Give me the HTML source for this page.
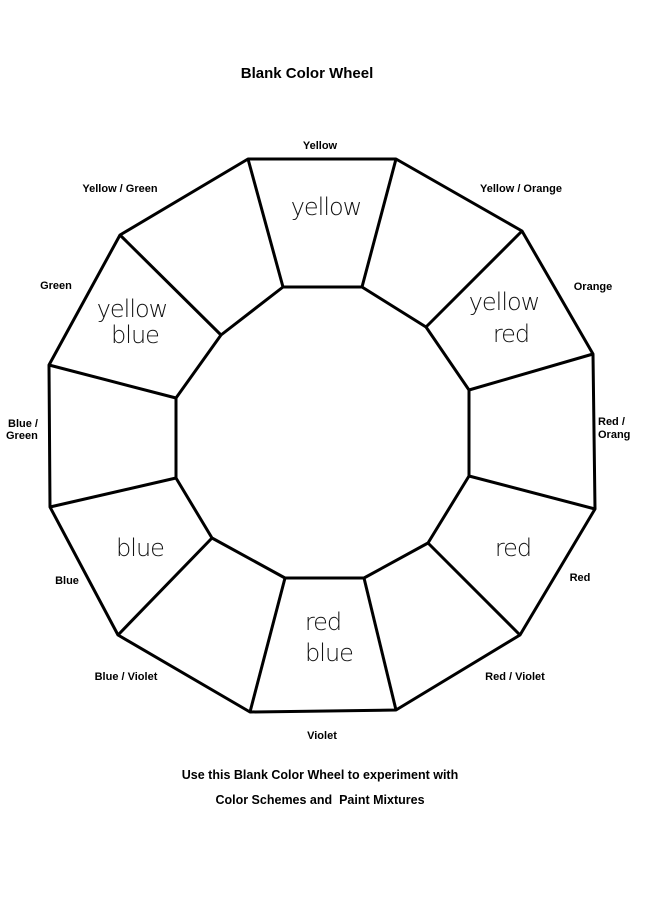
<!DOCTYPE html>
<html><head><style>
body{margin:0;background:#fff;}
svg{display:block;}
.l{font-family:"Liberation Sans",sans-serif;font-size:11px;font-weight:bold;fill:#000;}
.h{font-family:"DejaVu Sans","Liberation Sans",sans-serif;font-size:24px;font-weight:200;fill:#111;letter-spacing:-1px;}
</style></head><body>
<svg width="668" height="918" viewBox="0 0 668 918">
<rect width="668" height="918" fill="#fff"/>
<g fill="none" stroke="#000" stroke-width="3" stroke-linejoin="round">
<polygon points="248,159 396,159 522,231 593,354 595,509 520,635 396,710 250,712 118,635 50,507 49,365 120,235"/>
<polygon points="283,287 362,287 426,327 469,390 469,476 428,543 364,578 285,578 212,538 176,478 176,398 221,335"/>
<line x1="248" y1="159" x2="283" y2="287"/><line x1="396" y1="159" x2="362" y2="287"/>
<line x1="522" y1="231" x2="426" y2="327"/><line x1="593" y1="354" x2="469" y2="390"/>
<line x1="595" y1="509" x2="469" y2="476"/><line x1="520" y1="635" x2="428" y2="543"/>
<line x1="396" y1="710" x2="364" y2="578"/><line x1="250" y1="712" x2="285" y2="578"/>
<line x1="118" y1="635" x2="212" y2="538"/><line x1="50" y1="507" x2="176" y2="478"/>
<line x1="49" y1="365" x2="176" y2="398"/><line x1="120" y1="235" x2="221" y2="335"/>
</g>
<text x="307" y="78" text-anchor="middle" font-family="Liberation Sans,sans-serif" font-size="15" font-weight="bold">Blank Color Wheel</text>
<text class="l" x="320" y="149" text-anchor="middle">Yellow</text>
<text class="l" x="120" y="192" text-anchor="middle">Yellow / Green</text>
<text class="l" x="521" y="192" text-anchor="middle">Yellow / Orange</text>
<text class="l" x="56" y="289" text-anchor="middle">Green</text>
<text class="l" x="593" y="290" text-anchor="middle">Orange</text>
<text class="l" x="8" y="427">Blue /</text><text class="l" x="6" y="439">Green</text>
<text class="l" x="598" y="425">Red /</text><text class="l" x="598" y="438">Orang</text>
<text class="l" x="67" y="584" text-anchor="middle">Blue</text>
<text class="l" x="580" y="581" text-anchor="middle">Red</text>
<text class="l" x="126" y="680" text-anchor="middle">Blue / Violet</text>
<text class="l" x="515" y="680" text-anchor="middle">Red / Violet</text>
<text class="l" x="322" y="739" text-anchor="middle">Violet</text>
<text x="320" y="779" text-anchor="middle" font-family="Liberation Sans,sans-serif" font-size="12.5" font-weight="bold">Use this Blank Color Wheel to experiment with</text>
<text x="320" y="804" text-anchor="middle" font-family="Liberation Sans,sans-serif" font-size="12.5" font-weight="bold">Color Schemes and &#160;Paint Mixtures</text>
<text class="h" x="326" y="215" text-anchor="middle">yellow</text>
<text class="h" x="132" y="317" text-anchor="middle">yellow</text>
<text class="h" x="135" y="343" text-anchor="middle">blue</text>
<text class="h" x="504" y="310" text-anchor="middle">yellow</text>
<text class="h" x="511" y="342" text-anchor="middle">red</text>
<text class="h" x="140" y="556" text-anchor="middle">blue</text>
<text class="h" x="513" y="556" text-anchor="middle">red</text>
<text class="h" x="323" y="630" text-anchor="middle">red</text>
<text class="h" x="329" y="661" text-anchor="middle">blue</text>
</svg>
</body></html>
